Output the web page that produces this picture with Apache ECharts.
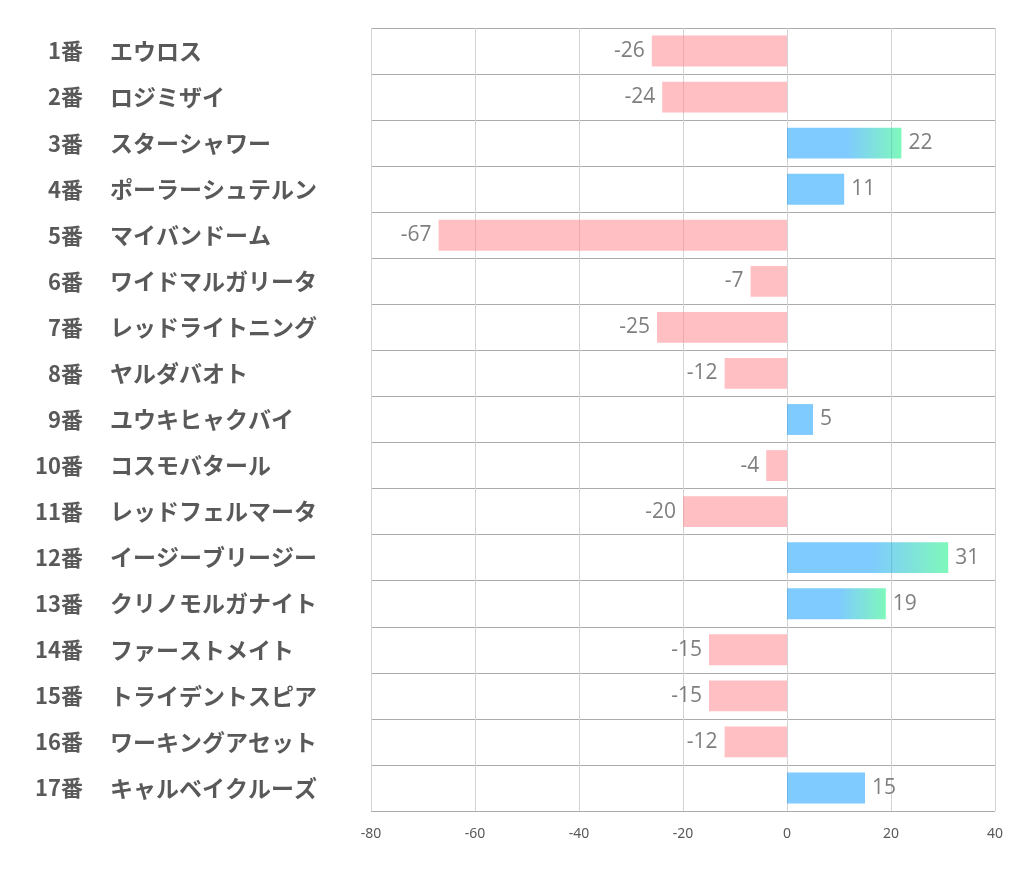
<!DOCTYPE html>
<html>
<head>
<meta charset="utf-8">
<script src="https://cdn.jsdelivr.net/npm/echarts@6/dist/echarts.min.js"></script>
<style>html,body{margin:0;padding:0;background:#fff;}#c{width:1022px;height:887px;}</style>
</head>
<body>
<div id="c"></div>
<script>
const numbers = ['1番','2番','3番','4番','5番','6番','7番','8番','9番','10番','11番','12番','13番','14番','15番','16番','17番'];
const names = ['エウロス','ロジミザイ','スターシャワー','ポーラーシュテルン','マイバンドーム','ワイドマルガリータ','レッドライトニング','ヤルダバオト','ユウキヒャクバイ','コスモバタール','レッドフェルマータ','イージーブリージー','クリノモルガナイト','ファーストメイト','トライデントスピア','ワーキングアセット','キャルベイクルーズ'];
const values = [-26, -24, 22, 11, -67, -7, -25, -12, 5, -4, -20, 31, 19, -15, -15, -12, 15];
const xTicks = [-80, -60, -40, -20, 0, 20, 40];

const top3 = values.filter(v => v > 0).sort((a, b) => b - a).slice(0, 3);

const data = values.map(v => {
  let color;
  if (v < 0) color = 'rgba(255,128,136,0.5)';
  else if (top3.includes(v)) color = {
    type: 'linear', x: 0, y: 0, x2: 1, y2: 0,
    colorStops: [
      { offset: 0, color: 'rgba(0,150,255,0.5)' },
      { offset: 0.52, color: 'rgba(0,150,255,0.5)' },
      { offset: 1, color: 'rgba(0,240,120,0.5)' }
    ]
  };
  else color = 'rgba(0,150,255,0.5)';
  return {
    value: v,
    itemStyle: { color },
    label: { position: v < 0 ? 'left' : 'right' }
  };
});

const labelFont = { fontWeight: 'bold', color: '#595959', fontFamily: 'Noto Sans CJK JP' };

const chart = echarts.init(document.getElementById('c'));
chart.setOption({
  animation: false,
  grid: { left: 371, right: 27, top: 28, bottom: 76, containLabel: false },
  xAxis: {
    type: 'value', min: xTicks[0], max: xTicks[xTicks.length - 1], interval: 20,
    axisLine: { show: false },
    axisTick: { show: false },
    axisLabel: { color: '#595959', fontSize: 14, fontFamily: 'Noto Sans', margin: 16 },
    splitLine: { show: true, lineStyle: { color: '#D4D4D4', width: 1 } }
  },
  yAxis: [{
    type: 'category', data: numbers, inverse: true, position: 'left',
    axisLine: { show: false },
    axisTick: { show: false },
    splitLine: { show: true, lineStyle: { color: '#ABABAB', width: 1 } },
    axisLabel: Object.assign({ align: 'right', margin: 288, fontSize: 22 }, labelFont)
  }, {
    type: 'category', data: names, inverse: true, position: 'left', offset: 0,
    axisLine: { show: false },
    axisTick: { show: false },
    splitLine: { show: false },
    axisLabel: Object.assign({ align: 'left', margin: 261, fontSize: 23 }, labelFont)
  }],
  series: [{
    type: 'bar', data, barWidth: '67%', yAxisIndex: 0,
    label: { show: true, distance: 7, fontSize: 21, color: '#7F7F7F', fontFamily: 'Open Sans' }
  }]
});
</script>
</body>
</html>
